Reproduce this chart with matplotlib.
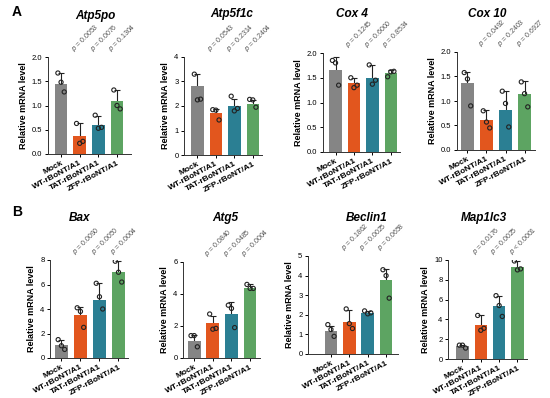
#! /usr/bin/env python3

import matplotlib
matplotlib.use("Agg")
import matplotlib.pyplot as plt
import numpy as np

plt.rcParams["font.family"] = ["Liberation Sans", "DejaVu Sans"]

groups = ["Mock", "WT-rBoNT/A1", "TAT-rBoNT/A1", "ZFP-rBoNT/A1"]
colors = ["#858585", "#E2561E", "#2B7F93", "#5DA462"]

genes = ["Atp5po", "Atp5f1c", "Cox 4", "Cox 10", "Bax", "Atg5", "Beclin1", "Map1lc3"]

means = {
    "Atp5po": [1.45, 0.37, 0.59, 1.09],
    "Atp5f1c": [2.82, 1.73, 1.98, 2.08],
    "Cox 4": [1.66, 1.39, 1.50, 1.59],
    "Cox 10": [1.36, 0.61, 0.81, 1.15],
    "Bax": [1.05, 3.50, 4.75, 7.00],
    "Atg5": [1.05, 2.20, 2.75, 4.35],
    "Beclin1": [1.15, 1.65, 2.10, 3.78],
    "Map1lc3": [1.30, 3.45, 5.40, 9.25],
}
errs = {
    "Atp5po": [0.23, 0.26, 0.19, 0.22],
    "Atp5f1c": [0.50, 0.15, 0.30, 0.18],
    "Cox 4": [0.26, 0.11, 0.25, 0.06],
    "Cox 10": [0.23, 0.20, 0.40, 0.25],
    "Bax": [0.40, 0.70, 1.35, 0.90],
    "Atg5": [0.40, 0.45, 0.75, 0.25],
    "Beclin1": [0.30, 0.62, 0.10, 0.55],
    "Map1lc3": [0.15, 0.95, 0.95, 0.60],
}
points = {
    "Atp5po": [[1.67, 1.48, 1.28], [0.63, 0.22, 0.26], [0.80, 0.53, 0.55], [1.32, 1.00, 0.93]],
    "Atp5f1c": [[3.30, 2.25, 2.28], [1.85, 1.83, 1.43], [2.40, 1.80, 1.90], [2.27, 2.25, 1.95]],
    "Cox 4": [[1.85, 1.80, 1.35], [1.50, 1.30, 1.35], [1.76, 1.37, 1.45], [1.52, 1.62, 1.63]],
    "Cox 10": [[1.58, 1.45, 0.90], [0.80, 0.57, 0.45], [1.20, 0.95, 0.47], [1.39, 1.15, 0.88]],
    "Bax": [[1.50, 1.00, 0.70], [4.10, 3.80, 2.50], [6.10, 5.00, 4.00], [7.90, 7.00, 6.20]],
    "Atg5": [[1.40, 1.40, 0.70], [2.75, 1.80, 1.85], [3.30, 3.10, 1.90], [4.60, 4.35, 4.35]],
    "Beclin1": [[1.50, 1.25, 0.90], [2.30, 1.55, 1.30], [2.20, 2.05, 2.10], [4.30, 4.00, 2.85]],
    "Map1lc3": [[1.40, 1.40, 1.10], [4.40, 2.90, 3.10], [6.40, 5.40, 4.30], [9.90, 9.00, 9.10]],
}
pvals = {
    "Atp5po": ["= 0.0053", "= 0.0076", "= 0.1304"],
    "Atp5f1c": ["= 0.0543", "= 0.2314", "= 0.2404"],
    "Cox 4": ["= 0.1245", "= 0.6000", "= 0.8534"],
    "Cox 10": ["= 0.0492", "= 0.2403", "= 0.6927"],
    "Bax": ["= 0.0090", "= 0.0050", "= 0.0004"],
    "Atg5": ["= 0.0840", "= 0.0485", "= 0.0004"],
    "Beclin1": ["= 0.1862", "= 0.0025", "= 0.0658"],
    "Map1lc3": ["= 0.0176", "= 0.0025", "< 0.0001"],
}
yticks = {
    "Atp5po": [0, 0.5, 1.0, 1.5, 2.0],
    "Atp5f1c": [0, 1, 2, 3, 4],
    "Cox 4": [0, 0.5, 1.0, 1.5, 2.0],
    "Cox 10": [0, 0.5, 1.0, 1.5, 2.0],
    "Bax": [0, 2, 4, 6, 8],
    "Atg5": [0, 2, 4, 6],
    "Beclin1": [0, 1, 2, 3, 4, 5],
    "Map1lc3": [0, 2, 4, 6, 8, 10],
}
decimal = {"Atp5po", "Cox 4", "Cox 10"}

# layout in pixels: axes box (left, right, bottom y, top y), x limits, title centre
boxes = {
    "Atp5po": (48, 131, 154, 57),
    "Atp5f1c": (184, 262, 155, 57),
    "Cox 4": (323, 400, 152, 53),
    "Cox 10": (457, 535, 150, 52),
    "Bax": (50, 128, 358, 260),
    "Atg5": (183, 260, 358, 262),
    "Beclin1": (308, 398, 354, 256),
    "Map1lc3": (448, 527, 359, 260),
}
xlims = {
    "Atp5po": (-0.7, 3.75),
    "Atp5f1c": (-0.73, 3.5),
    "Cox 4": (-0.68, 3.5),
    "Cox 10": (-0.55, 3.55),
    "Bax": (-0.6, 3.5),
    "Atg5": (-0.6, 3.53),
    "Beclin1": (-1.25, 3.65),
    "Map1lc3": (-0.79, 3.52),
}
titles_at = {
    "Atp5po": (95, 16), "Atp5f1c": (232, 14), "Cox 4": (352, 14), "Cox 10": (487, 14),
    "Bax": (80, 218), "Atg5": (225, 218), "Beclin1": (367, 218), "Map1lc3": (484, 218),
}

W, H = 550, 398
fig = plt.figure(figsize=(W / 100, H / 100), dpi=100)
x = np.arange(len(groups))

for g in genes:
    l, r, b, t = boxes[g]
    ax = fig.add_axes([l / W, 1 - b / H, (r - l) / W, (b - t) / H])
    ax.errorbar(x, means[g], yerr=errs[g], fmt="none", ecolor="#222222",
                elinewidth=0.8, capsize=2, capthick=0.8, zorder=1)
    ax.bar(x, means[g], width=0.68, color=colors, zorder=2)
    for i in range(len(groups)):
        jit = np.array([-0.17, 0.0, 0.17])
        ax.scatter(x[i] + jit, points[g][i], s=9, facecolors="none",
                   edgecolors="#222222", linewidths=0.8, zorder=3)
    top = yticks[g][-1]
    ax.set_ylim(0, top)
    ax.set_xlim(*xlims[g])
    ax.set_yticks(yticks[g])
    if g in decimal:
        ax.set_yticklabels([f"{v:.1f}" for v in yticks[g]])
    ax.set_xticks(x)
    ax.set_xticklabels(groups, rotation=28, ha="right", rotation_mode="anchor",
                       fontsize=6, fontweight="bold")
    ax.tick_params(axis="y", labelsize=5.5, length=2.5, width=0.7, pad=1.5)
    ax.tick_params(axis="x", length=2.5, width=0.7, pad=1.5)
    for s in ["top", "right"]:
        ax.spines[s].set_visible(False)
    for s in ["left", "bottom"]:
        ax.spines[s].set_linewidth(0.7)
        ax.spines[s].set_color("#333333")
    ax.set_ylabel("Relative mRNA level", fontsize=6.5, fontweight="bold", labelpad=3)
    tx, ty = titles_at[g]
    fig.text(tx / W, 1 - ty / H, g, fontsize=8.5, fontweight="bold", style="italic",
             ha="center", va="center")
    for i, p in enumerate(pvals[g]):
        ax.text(x[i + 1] - 0.2, top * 1.03, r"$\it{p}$ " + p, rotation=45,
                rotation_mode="anchor", ha="left", va="bottom",
                fontsize=5, color="#555555", clip_on=False)

fig.text(12 / W, 1 - 12 / H, "A", fontsize=10, fontweight="bold", va="center")
fig.text(12 / W, 1 - 212 / H, "B", fontsize=10, fontweight="bold", va="center")

fig.savefig("out.png", dpi=100)
